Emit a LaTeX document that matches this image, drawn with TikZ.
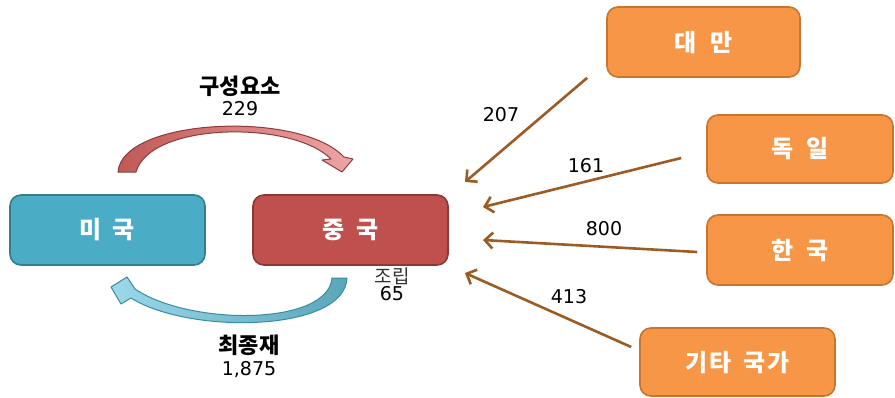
\documentclass[tikz,border=0pt]{standalone}
\usepackage{fontspec}
\newfontfamily\kr{Noto Sans CJK KR}
\newfontfamily\num{DejaVu Sans}
\usetikzlibrary{arrows.meta,calc}
\definecolor{usfill}{HTML}{4BACC6}
\definecolor{usline}{HTML}{357D91}
\definecolor{cnfill}{HTML}{C0504D}
\definecolor{cnline}{HTML}{8C3836}
\definecolor{orfill}{HTML}{F79646}
\definecolor{orline}{HTML}{C8752F}
\definecolor{flowc}{HTML}{9C5B22}
\definecolor{redA}{HTML}{BF5957}
\definecolor{redB}{HTML}{EDA5A5}
\definecolor{redL}{HTML}{8E3B3B}
\definecolor{bluA}{HTML}{9BD8EA}
\definecolor{bluB}{HTML}{5AA6B9}
\definecolor{bluL}{HTML}{3A8CA3}
\begin{document}
\begin{tikzpicture}[x=1pt,y=-1pt,
  boxbase/.style={line width=1.6pt,rounded corners=11pt,inner sep=0pt,
    text=white,font=\kr\bfseries\fontsize{24}{26}\selectfont},
  usbox/.style={boxbase,fill=usfill,draw=usline},
  cnbox/.style={boxbase,fill=cnfill,draw=cnline},
  orbox/.style={boxbase,fill=orfill,draw=orline},
  flow/.style={draw=flowc,line width=2.6pt,
    -{Straight Barb[length=8pt,width=16pt]}},
  numlab/.style={font=\num\fontsize{19}{21}\selectfont,text=black,inner sep=0pt,anchor=base},
  krlab/.style={font=\kr\bfseries\fontsize{22}{24}\selectfont,text=black,inner sep=0pt,anchor=base},
  krreg/.style={font=\kr\fontsize{19}{21}\selectfont,text=black!80,inner sep=0pt,anchor=base}]
\useasboundingbox (0,0) rectangle (895,397);

% boxes
\node[usbox,minimum width=195pt,minimum height=70pt] (us) at (107.5,230) {미\hspace{11pt}국};
\node[cnbox,minimum width=195pt,minimum height=70pt] (cn) at (350.5,230) {중\hspace{12pt}국};
\node[orbox,minimum width=193pt,minimum height=70pt] (tw) at (703.5,42) {대\hspace{14pt}만};
\node[orbox,minimum width=186pt,minimum height=68pt] (de) at (800,149) {독\hspace{12pt}일};
\node[orbox,minimum width=186pt,minimum height=70pt] (ko) at (800,250) {한\hspace{12pt}국};
\node[orbox,minimum width=195pt,minimum height=68pt] (ot) at (737.5,362) {기\hspace{2pt}타\hspace{12pt}국\hspace{2pt}가};

% curved arrows
\shade[left color=redA,right color=redB,draw=redL,line width=1pt,line join=round]
  (118,172) .. controls (122,118) and (300,110) .. (344,157)
  -- (353,159) -- (342,172) -- (322,160) -- (331,159)
  .. controls (292,120) and (150,122) .. (136,172) -- cycle;
\shade[left color=bluA,right color=bluB,draw=bluL,line width=1pt,line join=round]
  (347,278) .. controls (345,332) and (190,335) .. (131,298)
  -- (121,304) -- (111,287) -- (127,277) -- (135,289)
  .. controls (190,326) and (328,326) .. (332,278) -- cycle;

% labels around the US-China loop
\node[krlab] (l1) at (240,94) {구성요소};
\node[numlab] (n1) at (240,115) {229};
\node[krlab] (l2) at (249,353) {최종재};
\node[numlab] (n2) at (249,375) {1,875};
\node[krreg] (l3) at (392,283) {조립};
\node[numlab] (n3) at (392,300) {65};

% free ends of the incoming arrows
\coordinate (e1) at (465,182);
\coordinate (e2) at (483,207);
\coordinate (e3) at (483,240);
\coordinate (e4) at (465,273);

\draw[flow] ($(tw.south west)+(-19,0)$) -- (e1);
\draw[flow] ($(de.west)+(-25,9)$) -- (e2);
\draw[flow] ($(ko.west)+(-9,2)$) -- (e3);
\draw[flow] ($(ot.west)+(-8,-15)$) -- (e4);

\node[numlab] (v1) at (501,121) {207};
\node[numlab] (v2) at (586,172) {161};
\node[numlab] (v3) at (604,235) {800};
\node[numlab] (v4) at (569,303) {413};
\end{tikzpicture}
\end{document}
